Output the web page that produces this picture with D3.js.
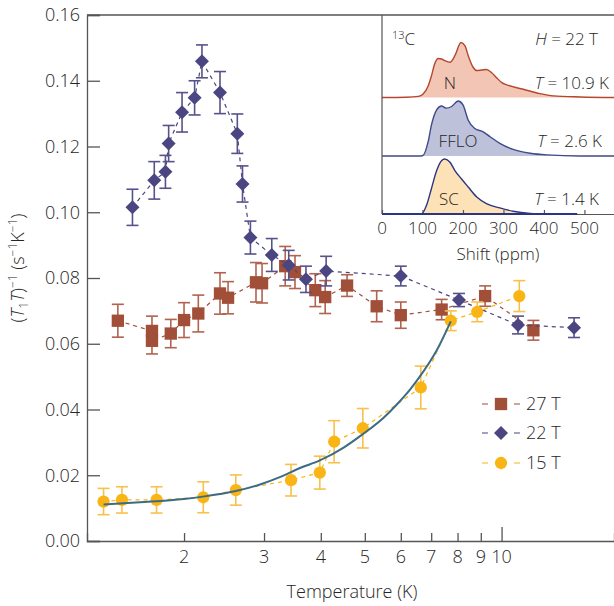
<!DOCTYPE html>
<html>
<head>
<meta charset="utf-8">
<script src="https://cdn.jsdelivr.net/npm/d3@7/dist/d3.min.js"></script>
<style>
    body { margin: 0; background: #fff; }
    svg { font-family: "Open Sans", "Noto Sans", sans-serif; font-weight: 300; }
</style>
</head>
<body>
<div class="chart"></div>
<script>
// 27 T (squares)
var temp27 = [1.43, 1.70, 1.70, 1.87, 2.00, 2.15, 2.40, 2.50, 2.88, 2.97, 3.34, 3.51, 3.89, 4.09, 4.57, 5.31, 6.00, 7.38, 9.20, 11.75];
var rate27 = [0.0670, 0.0639, 0.0609, 0.0631, 0.0672, 0.0692, 0.0753, 0.0740, 0.0787, 0.0784, 0.0836, 0.0818, 0.0763, 0.0742, 0.0777, 0.0714, 0.0687, 0.0704, 0.0745, 0.0641];
var err27 = [0.005, 0.0045, 0.004, 0.0043, 0.0053, 0.0056, 0.0063, 0.0049, 0.006, 0.006, 0.006, 0.005, 0.005, 0.005, 0.0033, 0.0047, 0.004, 0.0031, 0.0031, 0.003];

// 22 T (diamonds)
var temp22 = [1.54, 1.72, 1.82, 1.85, 1.98, 2.11, 2.19, 2.40, 2.62, 2.69, 2.80, 3.12, 3.40, 3.71, 4.11, 6.00, 8.06, 10.87, 14.44];
var rate22 = [0.1015, 0.1097, 0.1123, 0.1209, 0.1304, 0.1348, 0.1459, 0.1364, 0.1239, 0.1086, 0.0923, 0.0870, 0.0839, 0.0796, 0.0821, 0.0806, 0.0733, 0.0657, 0.0649];
var err22 = [0.0055, 0.0057, 0.005, 0.0055, 0.006, 0.0052, 0.005, 0.0064, 0.006, 0.0055, 0.005, 0.005, 0.0045, 0.004, 0.0045, 0.003, 0.002, 0.0027, 0.003];

// 15 T (circles)
var temp15 = [1.33, 1.46, 1.74, 2.205, 2.60, 3.44, 3.98, 4.28, 4.95, 6.64, 7.73, 8.84, 10.94];
var rate15 = [0.0120, 0.0125, 0.0125, 0.0133, 0.0155, 0.0185, 0.0208, 0.0302, 0.0343, 0.0467, 0.0670, 0.0697, 0.0745];
var err15 = [0.004, 0.004, 0.004, 0.0047, 0.0046, 0.0048, 0.005, 0.0064, 0.006, 0.0065, 0.003, 0.003, 0.0047];

// fit curve
var fitTemp = [1.33, 1.6, 2.0, 2.2, 2.6, 2.94, 3.26, 3.6, 3.98, 4.5, 4.95, 5.5, 5.86, 6.3, 6.6, 7.2, 7.73];
var fitRate = [0.0111, 0.0118, 0.0128, 0.0135, 0.0152, 0.0172, 0.0195, 0.0222, 0.0245, 0.0285, 0.0325, 0.0375, 0.0413, 0.0462, 0.0499, 0.058, 0.0668];

var xTicks = [2, 3, 4, 5, 6, 7, 8, 9, 10];
var yTicks = [0, 0.02, 0.04, 0.06, 0.08, 0.10, 0.12, 0.14, 0.16];

// inset spectra (normalised intensity)
var shiftN = [0, 60, 90, 101, 114, 122, 130, 139, 147, 155, 168, 180, 195, 205, 213, 225, 234, 246, 258, 271, 283, 296, 308, 349, 390, 423, 490, 573];
var specN = [0, 0.005, 0.02, 0.06, 0.21, 0.39, 0.61, 0.71, 0.70, 0.67, 0.64, 0.76, 1.0, 0.94, 0.76, 0.55, 0.49, 0.50, 0.51, 0.45, 0.36, 0.27, 0.23, 0.15, 0.07, 0.03, 0.01, 0];
var shiftF = [0, 90, 101, 114, 122, 135, 147, 159, 172, 188, 200, 213, 229, 250, 267, 291, 324, 366, 407, 489, 573];
var specF = [0, 0, 0.01, 0.26, 0.56, 0.84, 0.91, 0.87, 0.90, 1.0, 0.93, 0.65, 0.50, 0.44, 0.35, 0.23, 0.12, 0.05, 0.02, 0, 0];
var shiftS = [0, 97, 110, 122, 135, 147, 155, 168, 180, 196, 213, 234, 258, 291, 324, 366, 399, 482];
var specS = [0, 0, 0.16, 0.46, 0.79, 0.97, 1.0, 0.94, 0.79, 0.64, 0.49, 0.31, 0.19, 0.11, 0.05, 0.01, 0, 0];
var shiftTicks = [0, 100, 200, 300, 400, 500];

var W = 614, H = 606;
var svg = d3.select('.chart').append('svg')
    .attr('width', W).attr('height', H);

var x = d3.scaleLog().domain([1.223, 17.68]).range([87, 614]);
var y = d3.scaleLinear().domain([0, 0.16]).range([541, 15]);

var axisCol = '#555', textCol = '#262626';

// frame
svg.append('line').attr('x1', 87).attr('x2', 614).attr('y1', 15).attr('y2', 15).attr('stroke', axisCol).attr('stroke-width', 1.3);

var yAxis = svg.append('g').attr('transform', 'translate(87,0)')
    .call(d3.axisRight(y).tickValues(yTicks).tickSize(13).tickFormat(''));
var xAxis = svg.append('g').attr('transform', 'translate(0,541)')
    .call(d3.axisTop(x).tickValues(xTicks).tickSizeOuter(0).tickFormat('')
        .tickSize(8));
xAxis.selectAll('.tick line').attr('y2', function (d) { return d === 10 ? -14 : -8; });
[yAxis, xAxis].forEach(function (a) {
    a.select('.domain').attr('stroke', axisCol).attr('stroke-width', 1.3);
    a.selectAll('.tick line').attr('stroke', axisCol).attr('stroke-width', 1.3);
});

svg.append('g').selectAll('text').data(yTicks).enter().append('text')
    .attr('x', 80).attr('y', function (d) { return y(d); }).attr('dy', '0.35em')
    .attr('text-anchor', 'end').attr('fill', textCol).style('font-size', '18px')
    .text(function (d) { return d.toFixed(2); });
svg.append('g').selectAll('text').data(xTicks).enter().append('text')
    .attr('x', function (d) { return x(d); }).attr('y', 563)
    .attr('text-anchor', 'middle').attr('fill', textCol).style('font-size', '18px')
    .text(function (d) { return d; });

svg.append('text').attr('x', 352).attr('y', 598).attr('text-anchor', 'middle')
    .attr('fill', textCol).style('font-size', '18px').text('Temperature (K)');

var yl = svg.append('text').attr('transform', 'translate(24,268) rotate(-90)')
    .attr('text-anchor', 'middle').attr('fill', textCol).style('font-size', '18px');
yl.append('tspan').text('(');
yl.append('tspan').style('font-style', 'italic').text('T');
yl.append('tspan').attr('dy', 4).style('font-size', '12px').text('1');
yl.append('tspan').attr('dy', -4).style('font-style', 'italic').text('T');
yl.append('tspan').text(')');
yl.append('tspan').attr('dy', -7).style('font-size', '12px').text('\u22121');
yl.append('tspan').attr('dy', 7).text(' (s');
yl.append('tspan').attr('dy', -7).style('font-size', '12px').text('\u22121');
yl.append('tspan').attr('dy', 7).text('K');
yl.append('tspan').attr('dy', -7).style('font-size', '12px').text('\u22121');
yl.append('tspan').attr('dy', 7).text(')');

// series
var series = [
    {name: '27 T', t: temp27, v: rate27, e: err27, col: '#a24f3a', ecol: '#b1634f', sym: d3.symbolSquare, size: 152, ly: 404},
    {name: '22 T', t: temp22, v: rate22, e: err22, col: '#4b4682', ecol: '#57528c', sym: d3.symbolDiamond2, size: 125, ly: 433},
    {name: '15 T', t: temp15, v: rate15, e: err15, col: '#f9b416', ecol: '#f8c04c', sym: d3.symbolCircle, size: 118, ly: 463}
];

var line = d3.line()
    .x(function (d) { return x(d.t); })
    .y(function (d) { return y(d.v); });

series.forEach(function (s) {
    var pts = s.t.map(function (t, i) { return {t: t, v: s.v[i], e: s.e[i]}; });
    var g = svg.append('g');
    g.append('path').datum(pts).attr('d', line)
        .attr('fill', 'none').attr('stroke', s.col).attr('stroke-width', 1.2)
        .attr('stroke-dasharray', '4,4');
    var eb = g.selectAll('g.err').data(pts).enter().append('g')
        .attr('stroke', s.ecol).attr('stroke-width', 1.6);
    eb.append('line')
        .attr('x1', function (d) { return x(d.t); }).attr('x2', function (d) { return x(d.t); })
        .attr('y1', function (d) { return y(d.v - d.e); }).attr('y2', function (d) { return y(d.v + d.e); });
    [-1, 1].forEach(function (k) {
        eb.append('line')
            .attr('x1', function (d) { return x(d.t) - 6; }).attr('x2', function (d) { return x(d.t) + 6; })
            .attr('y1', function (d) { return y(d.v + k * d.e); }).attr('y2', function (d) { return y(d.v + k * d.e); });
    });
    g.selectAll('path.pt').data(pts).enter().append('path')
        .attr('class', 'pt')
        .attr('transform', function (d) { return 'translate(' + x(d.t) + ',' + y(d.v) + ')'; })
        .attr('d', d3.symbol().type(s.sym).size(s.size))
        .attr('fill', s.col);

    // legend
    var lg = svg.append('g').attr('transform', 'translate(0,' + s.ly + ')');
    lg.append('line').attr('x1', 482).attr('x2', 520).attr('stroke', s.col)
        .attr('stroke-width', 1.2).attr('stroke-dasharray', '6,26');
    lg.append('path').attr('transform', 'translate(501,0)')
        .attr('d', d3.symbol().type(s.sym).size(s.size)).attr('fill', s.col);
    lg.append('text').attr('x', 526).attr('dy', '0.35em').attr('fill', textCol)
        .style('font-size', '18px').text(s.name);
});

// fit
var fitPts = fitTemp.map(function (t, i) { return {t: t, v: fitRate[i]}; });
svg.append('path').datum(fitPts)
    .attr('d', line.curve(d3.curveMonotoneX))
    .attr('fill', 'none').attr('stroke', '#3d6b84').attr('stroke-width', 2);

// inset
var sx = d3.scaleLinear().domain([0, 573]).range([382, 614]);
var sh = d3.scaleLinear().domain([0, 1]).range([0, 55]);
var inset = svg.append('g');
inset.append('rect').attr('x', 382).attr('y', 16).attr('width', 232).attr('height', 198).attr('fill', '#fff');

var panels = [
    {s: shiftN, v: specN, base: 97.5, fill: '#f2c5b5', stroke: '#b4472d', label: 'N', lx: 450, tlab: '10.9 K', tx: 609},
    {s: shiftF, v: specF, base: 156, fill: '#bdc1da', stroke: '#404a88', label: 'FFLO', lx: 458, tlab: '2.6 K', tx: 602},
    {s: shiftS, v: specS, base: 214, fill: '#fde2b8', stroke: '#2b3581', label: 'SC', lx: 449, tlab: '1.4 K', tx: 599}
];
panels.forEach(function (p) {
    var pts = p.s.map(function (s, i) { return {s: s, v: p.v[i]}; });
    var area = d3.area().curve(d3.curveMonotoneX)
        .x(function (d) { return sx(d.s); })
        .y0(p.base).y1(function (d) { return p.base - sh(d.v); });
    inset.append('path').datum(pts).attr('d', area).attr('fill', p.fill);
    inset.append('path').datum(pts).attr('d', area.lineY1()).attr('fill', 'none')
        .attr('stroke', p.stroke).attr('stroke-width', 1.4);
    inset.append('text').attr('x', p.lx).attr('y', p.base - 9).attr('text-anchor', 'middle')
        .attr('fill', textCol).style('font-size', '17px').text(p.label);
    var tt = inset.append('text').attr('x', p.tx).attr('y', p.base - 9).attr('text-anchor', 'end')
        .attr('fill', textCol).style('font-size', '17px');
    tt.append('tspan').style('font-style', 'italic').text('T');
    tt.append('tspan').text(' = ' + p.tlab);
});

var sAxis = inset.append('g').attr('transform', 'translate(0,214)')
    .call(d3.axisTop(sx).tickValues(shiftTicks).tickSize(4).tickSizeOuter(0).tickFormat(''));
sAxis.select('.domain').attr('stroke', axisCol).attr('stroke-width', 1.2);
sAxis.selectAll('.tick line').attr('stroke', axisCol).attr('stroke-width', 1.2);
inset.append('line').attr('x1', sx(0)).attr('x2', sx(482)).attr('y1', 214).attr('y2', 214)
    .attr('stroke', '#2b3581').attr('stroke-width', 1.8);
inset.append('line').attr('x1', 382).attr('x2', 382).attr('y1', 15).attr('y2', 214)
    .attr('stroke', axisCol).attr('stroke-width', 1.2);
inset.selectAll('text.st').data(shiftTicks).enter().append('text')
    .attr('x', function (d) { return sx(d); }).attr('y', 234).attr('text-anchor', 'middle')
    .attr('fill', textCol).style('font-size', '17px').text(function (d) { return d; });
inset.append('text').attr('x', 498).attr('y', 260).attr('text-anchor', 'middle')
    .attr('fill', textCol).style('font-size', '17px').text('Shift (ppm)');

var c13 = inset.append('text').attr('x', 392).attr('y', 45).attr('fill', textCol).style('font-size', '17px');
c13.append('tspan').attr('dy', -6).style('font-size', '11px').text('13');
c13.append('tspan').attr('dy', 6).text('C');
var hl = inset.append('text').attr('x', 598).attr('y', 45).attr('text-anchor', 'end')
    .attr('fill', textCol).style('font-size', '17px');
hl.append('tspan').style('font-style', 'italic').text('H');
hl.append('tspan').text(' = 22 T');
</script>
</body>
</html>
